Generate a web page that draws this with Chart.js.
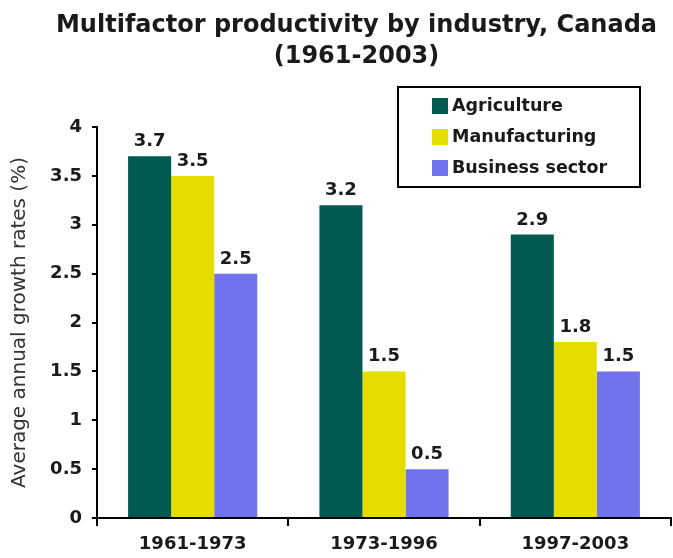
<!DOCTYPE html>
<html>
<head>
<meta charset="utf-8">
<title>Multifactor productivity by industry, Canada</title>
<script src="https://cdn.jsdelivr.net/npm/chart.js@4"></script>
<style>
  html, body { margin: 0; padding: 0; background: #fff; }
  canvas { display: block; }
</style>
</head>
<body>
<canvas id="chart" width="673" height="558"></canvas>
<script>
// Chart data
const titleLines = ['Multifactor productivity by industry, Canada', '(1961-2003)'];
const yAxisTitle = 'Average annual growth rates (%)';
const categories = ['1961-1973', '1973-1996', '1997-2003'];
const seriesNames = ['Agriculture', 'Manufacturing', 'Business sector'];
const agriculture = [3.7, 3.2, 2.9];
const manufacturing = [3.5, 1.5, 1.8];
const businessSector = [2.5, 0.5, 1.5];
const yMin = 0, yMax = 4, yStep = 0.5;

const colors = ['#005a50', '#e6dc00', '#7272ee'];
const textColor = '#1a1a1a';
const fontFamily = '"DejaVu Sans", Verdana, sans-serif';

Chart.defaults.font.family = fontFamily;

// Two-line title, drawn a little right of the canvas centre like the original
const titlePlugin = {
  id: 'titleLines',
  afterDraw(chart) {
    const ctx = chart.ctx;
    ctx.save();
    ctx.font = 'bold 24px ' + fontFamily;
    ctx.fillStyle = textColor;
    ctx.textAlign = 'center';
    ctx.textBaseline = 'alphabetic';
    const cx = chart.width / 2 + 20;
    ctx.fillText(titleLines[0], cx, 32);
    ctx.fillText(titleLines[1], cx, 63);
    ctx.restore();
  }
};

// Boxed legend in the upper right
const boxLegend = {
  id: 'boxLegend',
  afterDraw(chart) {
    const ctx = chart.ctx;
    const left = 398, top = 87, w = 242, h = 100;
    ctx.save();
    ctx.strokeStyle = '#000';
    ctx.lineWidth = 2;
    ctx.strokeRect(left, top, w, h);
    ctx.font = 'bold 17.5px ' + fontFamily;
    ctx.textBaseline = 'middle';
    ctx.textAlign = 'left';
    chart.data.datasets.forEach((ds, i) => {
      const y = top + 19 + i * 31;
      ctx.fillStyle = ds.backgroundColor;
      ctx.fillRect(left + 34, y - 8, 16, 16);
      ctx.fillStyle = textColor;
      ctx.fillText(ds.label, left + 54, y);
    });
    ctx.restore();
  }
};

// Value labels above each bar
const valueLabels = {
  id: 'valueLabels',
  afterDatasetsDraw(chart) {
    const ctx = chart.ctx;
    ctx.save();
    ctx.font = 'bold 18px ' + fontFamily;
    ctx.fillStyle = textColor;
    ctx.textAlign = 'center';
    ctx.textBaseline = 'alphabetic';
    chart.data.datasets.forEach((ds, i) => {
      chart.getDatasetMeta(i).data.forEach((bar, j) => {
        ctx.fillText(ds.data[j].toFixed(1), bar.x, bar.y - 10);
      });
    });
    ctx.restore();
  }
};

const seriesValues = [agriculture, manufacturing, businessSector];

new Chart(document.getElementById('chart').getContext('2d'), {
  type: 'bar',
  data: {
    labels: categories,
    datasets: seriesNames.map((name, i) => ({
      label: name,
      data: seriesValues[i],
      backgroundColor: colors[i],
      borderWidth: 0,
      categoryPercentage: 0.675,
      barPercentage: 1.0
    }))
  },
  options: {
    responsive: false,
    animation: false,
    layout: { padding: { top: 127, right: 2, bottom: 0, left: 0 } },
    plugins: {
      legend: { display: false },
      title: { display: false },
      tooltip: { enabled: false }
    },
    scales: {
      x: {
        grid: { offset: true, drawOnChartArea: false, tickLength: 8, color: '#000', lineWidth: 2 },
        border: { color: '#000', width: 2 },
        ticks: { color: textColor, font: { size: 18, weight: 'bold' }, padding: 8 },
        afterFit(scale) { scale.height = 40; }
      },
      y: {
        min: yMin,
        max: yMax,
        ticks: {
          stepSize: yStep,
          color: textColor,
          font: { size: 18, weight: 'bold' },
          padding: 10,
          callback: value => String(value)
        },
        grid: { drawOnChartArea: false, tickLength: 5, color: '#000', lineWidth: 2 },
        border: { color: '#000', width: 2 },
        title: { display: true, text: yAxisTitle, color: '#333', font: { size: 20 }, padding: { top: 8, bottom: 0 } },
        afterFit(scale) { scale.width = 97; }
      }
    }
  },
  plugins: [titlePlugin, boxLegend, valueLabels]
});
</script>
</body>
</html>
